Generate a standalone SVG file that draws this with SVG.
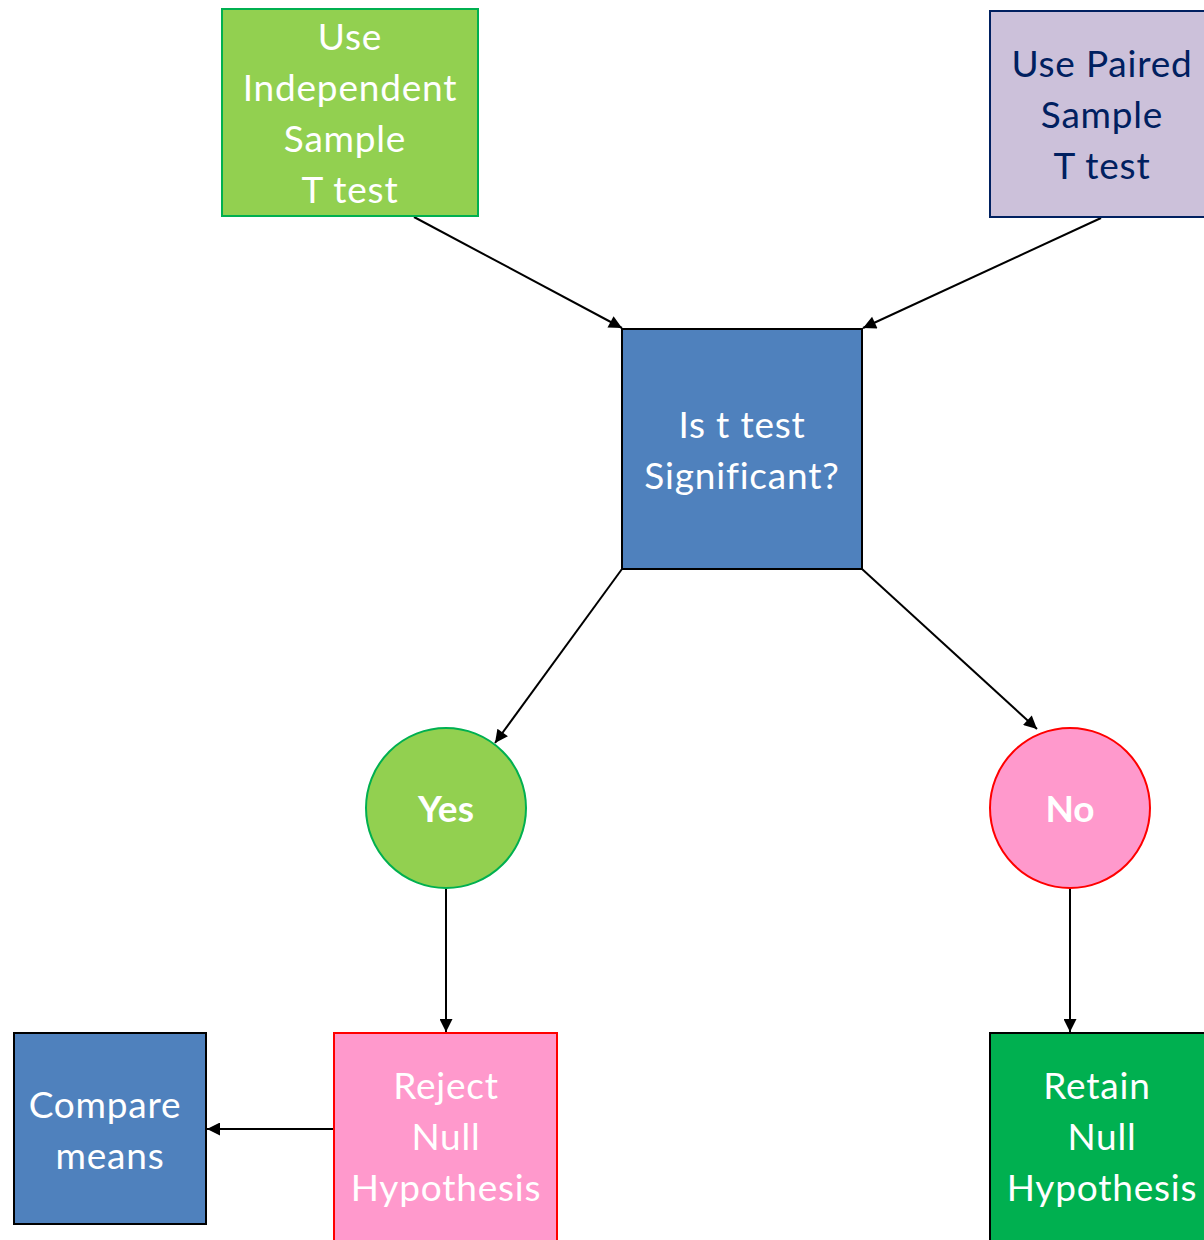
<svg xmlns="http://www.w3.org/2000/svg" width="1204" height="1240" viewBox="0 0 1204 1240">
  <style>
    .lbl { font-family: Lato, "Open Sans", "Liberation Sans", sans-serif; font-size: 37px; letter-spacing: 0.8px; text-anchor: middle; fill: #ffffff; }
    .dark { fill: #002060; }
    .bold { font-weight: bold; letter-spacing: 0; }
    .conn { stroke: #000000; stroke-width: 2; fill: none; marker-end: url(#arrow); }
  </style>
  <defs>
    <marker id="arrow" viewBox="0 0 10 10" refX="10" refY="5" markerWidth="15" markerHeight="13" markerUnits="userSpaceOnUse" orient="auto">
      <path d="M0,0 L10,5 L0,10 z" fill="#000000"/>
    </marker>
  </defs>
  <rect width="1204" height="1240" fill="#ffffff"/>

  <g id="connectors">
    <line class="conn" x1="414" y1="217" x2="622" y2="328"/>
    <line class="conn" x1="1101" y1="218" x2="863" y2="328"/>
    <line class="conn" x1="622" y1="569" x2="495" y2="743"/>
    <line class="conn" x1="862" y1="569" x2="1037" y2="729"/>
    <line class="conn" x1="446" y1="888" x2="446" y2="1032"/>
    <line class="conn" x1="1070" y1="888" x2="1070" y2="1032"/>
    <line class="conn" x1="334" y1="1129" x2="207" y2="1129"/>
  </g>

  <g id="independent">
    <rect x="222" y="9" width="256" height="207" fill="#92D050" stroke="#00B050" stroke-width="2"/>
    <text class="lbl" x="350" y="50">Use</text>
    <text class="lbl" x="350" y="101">Independent</text>
    <text class="lbl" x="345" y="152">Sample</text>
    <text class="lbl" x="350" y="203">T test</text>
  </g>

  <g id="paired">
    <rect x="990" y="11" width="230" height="206" fill="#CCC1DA" stroke="#002060" stroke-width="2"/>
    <text class="lbl dark" x="1102" y="77">Use Paired</text>
    <text class="lbl dark" x="1102" y="128">Sample</text>
    <text class="lbl dark" x="1102" y="179">T test</text>
  </g>

  <g id="significant">
    <rect x="622" y="329" width="240" height="240" fill="#4F81BD" stroke="#000000" stroke-width="2"/>
    <text class="lbl" x="742" y="438">Is t test</text>
    <text class="lbl" x="742" y="489">Significant?</text>
  </g>

  <g id="yes">
    <circle cx="446" cy="808" r="80" fill="#92D050" stroke="#00B050" stroke-width="2"/>
    <text class="lbl bold" x="446" y="822">Yes</text>
  </g>

  <g id="no">
    <circle cx="1070" cy="808" r="80" fill="#FF99CC" stroke="#FF0000" stroke-width="2"/>
    <text class="lbl bold" x="1070" y="822">No</text>
  </g>

  <g id="compare">
    <rect x="14" y="1033" width="192" height="191" fill="#4F81BD" stroke="#000000" stroke-width="2"/>
    <text class="lbl" x="105" y="1118">Compare</text>
    <text class="lbl" x="110" y="1169">means</text>
  </g>

  <g id="reject">
    <rect x="334" y="1033" width="223" height="220" fill="#FF99CC" stroke="#FF0000" stroke-width="2"/>
    <text class="lbl" x="446" y="1099">Reject</text>
    <text class="lbl" x="446" y="1150">Null</text>
    <text class="lbl" x="446" y="1201">Hypothesis</text>
  </g>

  <g id="retain">
    <rect x="990" y="1033" width="230" height="220" fill="#00B050" stroke="#000000" stroke-width="2"/>
    <text class="lbl" x="1097" y="1099">Retain</text>
    <text class="lbl" x="1102" y="1150">Null</text>
    <text class="lbl" x="1102" y="1201">Hypothesis</text>
  </g>
</svg>
